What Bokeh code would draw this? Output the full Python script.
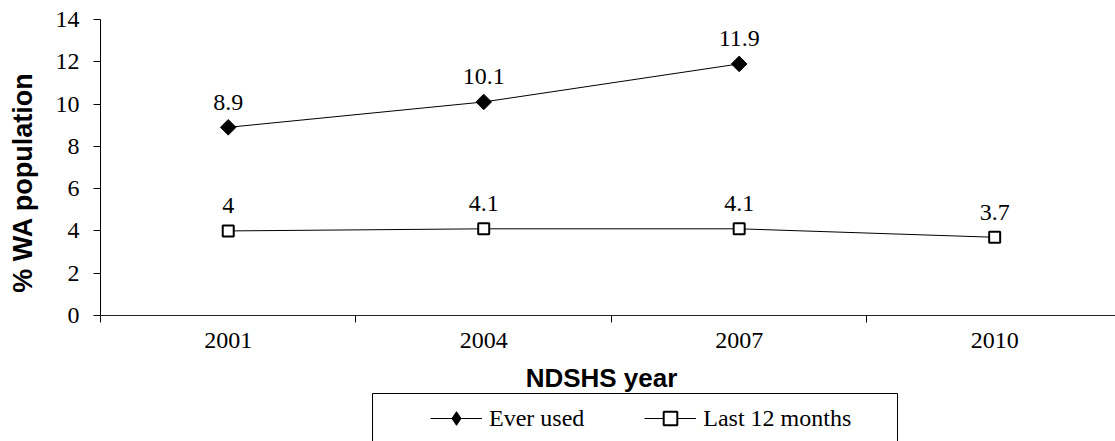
import math
from bokeh.plotting import figure
from bokeh.layouts import column
from bokeh.models import (Range1d, FixedTicker, Legend, LegendItem, Label,
                          BoxAnnotation, ColumnDataSource)
from bokeh.core.properties import value
from bokeh.embed import file_html
from bokeh.resources import INLINE

# ---- data ----
years = ["2001", "2004", "2007", "2010"]
ever_used = [8.9, 10.1, 11.9]          # 2001, 2004, 2007
last_12_months = [4.0, 4.1, 4.1, 3.7]  # 2001, 2004, 2007, 2010
ever_labels = ["8.9", "10.1", "11.9"]
last_labels = ["4", "4.1", "4.1", "3.7"]
y_ticks = [0, 2, 4, 6, 8, 10, 12, 14]

SERIF = "Liberation Serif"
SANS = "Liberation Sans"
NB = "\u00a0"

pos = [i + 0.5 for i in range(len(years))]

# ---------------- main chart ----------------
p = figure(width=1115, height=362, output_backend="svg", toolbar_location=None,
           x_range=Range1d(0, 3.973), y_range=Range1d(0, 14),
           min_border_left=100, min_border_right=0, min_border_top=19,
           min_border_bottom=47)
p.outline_line_color = None
p.background_fill_color = "white"
p.border_fill_color = "white"
p.xgrid.visible = False
p.ygrid.visible = False

# x axis: category labels at centres, boundary ticks as minor ticks
p.xaxis.ticker = FixedTicker(ticks=pos, minor_ticks=[0, 1, 2, 3, 4])
p.xaxis.major_label_overrides = {pv: y for pv, y in zip(pos, years)}
p.xaxis.major_tick_line_color = None
p.xaxis.major_tick_out = 7
p.xaxis.major_tick_in = 0
p.xaxis.minor_tick_in = 0
p.xaxis.minor_tick_out = 7
p.xaxis.minor_tick_line_color = "black"
p.xaxis.axis_line_color = "#222222"
p.xaxis.major_label_text_font = SERIF
p.xaxis.major_label_text_font_size = "24px"
p.xaxis.major_label_text_color = "black"
p.xaxis.major_label_standoff = 10

p.yaxis.ticker = FixedTicker(ticks=y_ticks, minor_ticks=[])
p.yaxis.major_tick_out = 7
p.yaxis.major_tick_in = 0
p.yaxis.major_tick_line_color = "black"
p.yaxis.axis_line_color = "black"
p.yaxis.major_label_text_font = SERIF
p.yaxis.major_label_text_font_size = "24px"
p.yaxis.major_label_text_color = "black"
p.yaxis.major_label_standoff = 14
p.yaxis.axis_label = "% WA population" + NB * 4
p.yaxis.axis_label_text_font = SANS
p.yaxis.axis_label_text_font_style = "bold"
p.yaxis.axis_label_text_font_size = "27px"
p.yaxis.axis_label_text_color = "black"
p.yaxis.axis_label_standoff = 15

# series
src_e = ColumnDataSource(dict(x=pos[:3], y=ever_used, t=ever_labels))
src_l = ColumnDataSource(dict(x=pos, y=last_12_months, t=last_labels))

LINE = dict(line_color="black", line_width=1)
DIAMOND = dict(marker="square", size=11, angle=math.pi / 4,
               fill_color="black", line_color="black", line_width=1)
LEG_DIAMOND = dict(marker="diamond", size=16,
                   fill_color="black", line_color="black", line_width=1)
SQUARE = dict(marker="square", size=11, fill_color="white",
              line_color="black", line_width=2)

p.line("x", "y", source=src_e, **LINE)
p.scatter("x", "y", source=src_e, **DIAMOND)
p.line("x", "y", source=src_l, **LINE)
p.scatter("x", "y", source=src_l, **SQUARE)

for src in (src_e, src_l):
    p.text("x", "y", text="t", source=src, text_font=value(SERIF),
           text_font_size="24px", text_align="center",
           text_baseline="alphabetic", y_offset=-25, text_color="black")

# ---------------- x title + legend strip ----------------
# frames of the two figures are aligned (x 100..1115 on the page),
# so the strip's x range is expressed in page pixels
H2 = 79
p2 = figure(width=1115, height=H2, output_backend="svg", toolbar_location=None,
            x_range=Range1d(100, 1115), y_range=Range1d(0, H2),
            x_axis_location=None, y_axis_location=None,
            min_border=0, min_border_left=100, min_border_right=0,
            min_border_top=0, min_border_bottom=0)
p2.grid.visible = False
p2.outline_line_color = None
p2.background_fill_color = "white"
p2.border_fill_color = "white"

p2.add_layout(Label(x=601, y=H2 - 15, text="NDSHS year", text_font=SANS,
                    text_font_style="bold", text_font_size="26px",
                    text_align="center", text_baseline="alphabetic",
                    text_color="black"))

# proxy renderers (outside the visible strip) for the legend glyphs
def proxy():
    return ColumnDataSource(dict(x=[-50, -40], y=[-50, -50]))

l1 = p2.line(x="x", y="y", source=proxy(), **LINE)
m1 = p2.scatter(x="x", y="y", source=proxy(), **LEG_DIAMOND)
l2 = p2.line(x="x", y="y", source=proxy(), **LINE)
m2 = p2.scatter(x="x", y="y", source=proxy(), **SQUARE)

p2.add_layout(BoxAnnotation(left=372, right=897, top=H2 - 31, bottom=-10,
                            fill_color=None, fill_alpha=0, line_color="black",
                            line_width=1, line_alpha=1))

legend = Legend(items=[LegendItem(label="Ever used", renderers=[l1, m1]),
                       LegendItem(label="Last 12 months", renderers=[l2, m2])],
                orientation="horizontal", location=(330, 6),
                padding=0, margin=0, spacing=60, glyph_width=52,
                glyph_height=34, label_height=34, label_standoff=7,
                label_text_font=SERIF, label_text_font_size="24px",
                label_text_color="black", border_line_color=None,
                background_fill_alpha=0)
p2.add_layout(legend, "center")

open("out.html", "w").write(file_html(column(p, p2, spacing=0), INLINE))
